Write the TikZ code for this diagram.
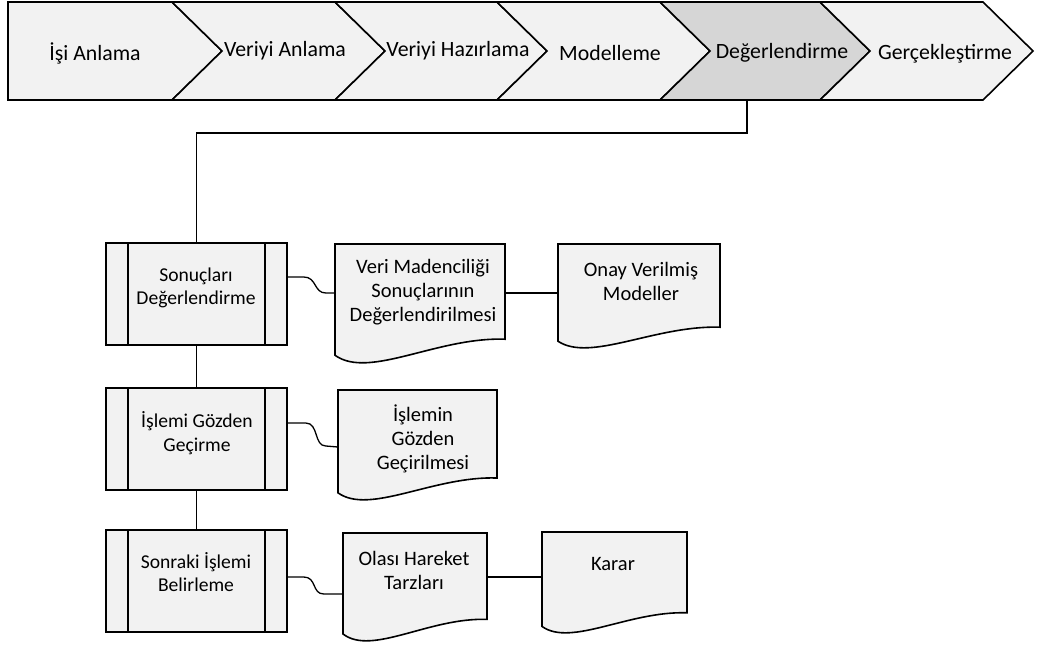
\documentclass[tikz,border=0pt]{standalone}
\usepackage{fontspec}
\setmainfont{Carlito}
\usetikzlibrary{calc}
\definecolor{shapefill}{HTML}{F2F2F2}
\definecolor{activefill}{HTML}{D6D6D6}

% document symbol: name, left, top, width, height
\newcommand\docsymbol[5]{%
  \path[outline, fill=shapefill] (#2,#3) -- (#2+#4,#3) -- (#2+#4,#3+0.8*#5)
    .. controls (#2+0.6*#4,#3+0.78*#5) and (#2+0.2*#4,#3+1.14*#5) .. (#2,#3+0.935*#5) -- cycle;
  \node[inner sep=0pt, minimum width=#4pt, minimum height=#5pt] (#1) at (#2+0.5*#4,#3+0.5*#5) {};
}
% process chevron: left, right, fill
\newcommand\chevronstep[3]{%
  \path[outline, fill=#3] (#1,2) -- (#2,2) -- (#2+50,51) -- (#2,100) -- (#1,100) -- (#1+50,51) -- cycle;
}

\begin{document}
\begin{tikzpicture}[x=1pt,y=-1pt,
  outline/.style={draw=black, line width=1.6pt, line join=miter},
  conn/.style={draw=black, line width=1.3pt},
  phasetext/.style={font=\fontsize{21.8}{25}\selectfont, inner sep=0pt, anchor=base},
  boxtext/.style={font=\fontsize{19.6}{23.5}\selectfont, align=center, inner sep=0pt},
  doctext/.style={font=\fontsize{20.5}{24}\selectfont, align=center, inner sep=0pt},
  subproc/.style={outline, fill=shapefill, minimum width=181pt, minimum height=102pt, inner sep=0pt,
    path picture={
      \draw[line width=1.6pt] ([xshift=22pt]path picture bounding box.north west) -- ([xshift=22pt]path picture bounding box.south west);
      \draw[line width=1.6pt] ([xshift=-22pt]path picture bounding box.north east) -- ([xshift=-22pt]path picture bounding box.south east);}},
]
\useasboundingbox (0,0) rectangle (1049,646);

% phase band
\path[outline, fill=shapefill] (8,2) -- (172,2) -- (222,51) -- (172,100) -- (8,100) -- cycle;
\chevronstep{172}{335}{shapefill}
\chevronstep{335}{497}{shapefill}
\chevronstep{497}{660}{shapefill}
\chevronstep{660}{820}{activefill}
\chevronstep{820}{983}{shapefill}

\node[phasetext] (p1) at (95,60) {İşi Anlama};
\node[phasetext] (p2) at (285,56) {Veriyi Anlama};
\node[phasetext] (p3) at (458,56) {Veriyi Hazırlama};
\node[phasetext] (p4) at (610,60) {Modelleme};
\node[phasetext] (p5) at (782,58) {Değerlendirme};
\node[phasetext] (p6) at (945,59) {Gerçekleştirme};
\coordinate (evalbottom) at (747,100);

% sub-process boxes
\node[subproc] (b1) at (196.5,294) {};
\node[subproc] (b2) at (196.5,439) {};
\node[subproc] (b3) at (196.5,581) {};
\node[boxtext] (b1t) at (196,288) {Sonuçları\\Değerlendirme};
\node[boxtext] (b2t) at (197,433) {İşlemi Gözden\\Geçirme};
\node[boxtext] (b3t) at (196,572) {Sonraki İşlemi\\Belirleme};

% outputs
\docsymbol{d1}{335}{244}{170}{119}
\docsymbol{d2}{558}{244}{162}{104}
\docsymbol{d3}{338}{390}{159}{110}
\docsymbol{d4}{343}{533}{144}{108}
\docsymbol{d5}{542}{532}{145}{101}
\node[doctext] (d1t) at (423,292) {Veri Madenciliği\\Sonuçlarının\\Değerlendirilmesi};
\node[doctext] (d2t) at (641,281) {Onay Verilmiş\\Modeller};
\node[doctext] (d3t) at (423,438.5) {İşlemin\\Gözden\\Geçirilmesi};
\node[doctext] (d4t) at (414,570.5) {Olası Hareket\\Tarzları};
\node[doctext] (d5t) at (613,564) {Karar};

% connectors
\draw[conn] (evalbottom) -- ++(0,33) -| (b1.north);
\draw[conn] (b1.south) -- (b2.north);
\draw[conn] (b2.south) -- (b3.north);

\draw[conn] ([yshift=17pt]b1.east) -- ++(16,0) .. controls +(13,0) and +(-12,0) .. ++(22,16) -- ([yshift=10.5pt]d1.west);
\draw[conn] ([yshift=16pt]b2.east) -- ++(18,0) .. controls +(13,0) and +(-12,0) .. ++(20,23) -- ([yshift=-2pt]d3.west);
\draw[conn] ([yshift=4pt]b3.east) -- ++(16,0) .. controls +(13,0) and +(-12,0) .. ++(20,17) -- ([yshift=-7pt]d4.west);

\coordinate (k1) at ([yshift=10.5pt]d1.east);
\draw[conn] (k1) -- (k1 -| d2.west);
\coordinate (k2) at ([yshift=10pt]d4.east);
\draw[conn] (k2) -- (k2 -| d5.west);
\end{tikzpicture}
\end{document}
